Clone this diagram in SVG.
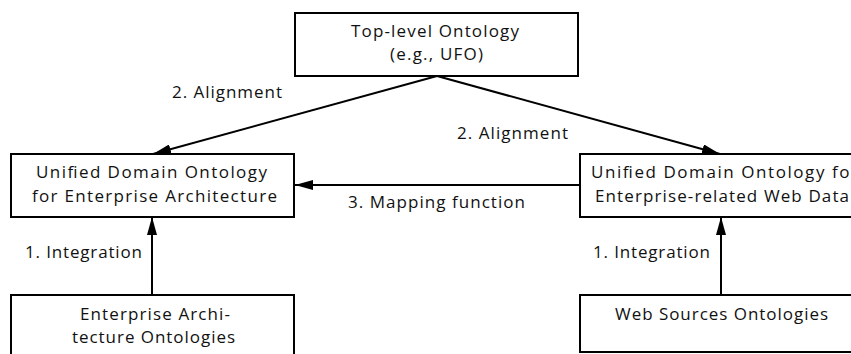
<svg xmlns="http://www.w3.org/2000/svg" width="851" height="354" viewBox="0 0 851 354">
<style>
.box{fill:#fff;stroke:#000;stroke-width:2}
text{font-family:"Open Sans","DejaVu Sans",sans-serif;font-size:17px;fill:#111}
.edge{stroke:#000;stroke-width:2;fill:none;marker-end:url(#ah)}
</style>
<defs>
<marker id="ah" viewBox="0 0 18 10" refX="18" refY="5" markerWidth="18" markerHeight="10" markerUnits="userSpaceOnUse" orient="auto">
<path d="M0,0 L18,5 L0,10 z" fill="#000"/>
</marker>
</defs>
<rect width="851" height="354" fill="#fff"/>
<g id="connectors">
<line class="edge" x1="437" y1="76" x2="153" y2="154"/>
<line class="edge" x1="437" y1="76" x2="720" y2="154"/>
<line class="edge" x1="580" y1="185" x2="295" y2="185"/>
<line class="edge" x1="152" y1="295" x2="152" y2="217"/>
<line class="edge" x1="721" y1="295" x2="721" y2="217"/>
<text x="172" y="98" textLength="110">2. Alignment</text>
<text x="457" y="139" textLength="111">2. Alignment</text>
<text x="348" y="208" textLength="177">3. Mapping function</text>
<text x="25" y="258" textLength="117">1. Integration</text>
<text x="593" y="258" textLength="117">1. Integration</text>
</g>
<g id="top">
<rect class="box" x="295" y="13" width="283" height="63"/>
<text x="351" y="37" textLength="168">Top-level Ontology</text>
<text x="390" y="60" textLength="93">(e.g., UFO)</text>
</g>
<g id="uea">
<rect class="box" x="11" y="154" width="283" height="63"/>
<text x="36" y="178" textLength="231">Unified Domain Ontology</text>
<text x="32" y="202" textLength="245">for Enterprise Architecture</text>
</g>
<g id="uweb">
<rect class="box" x="580" y="154" width="283" height="63"/>
<text x="591" y="178" textLength="267">Unified Domain Ontology for</text>
<text x="595" y="202" textLength="254">Enterprise-related Web Data</text>
</g>
<g id="eao">
<rect class="box" x="11" y="295" width="283" height="70"/>
<text x="80" y="320" textLength="150">Enterprise Archi-</text>
<text x="72" y="343" textLength="163">tecture Ontologies</text>
</g>
<g id="wso">
<rect class="box" x="580" y="295" width="283" height="57"/>
<text x="615" y="320" textLength="213">Web Sources Ontologies</text>
</g>
</svg>
